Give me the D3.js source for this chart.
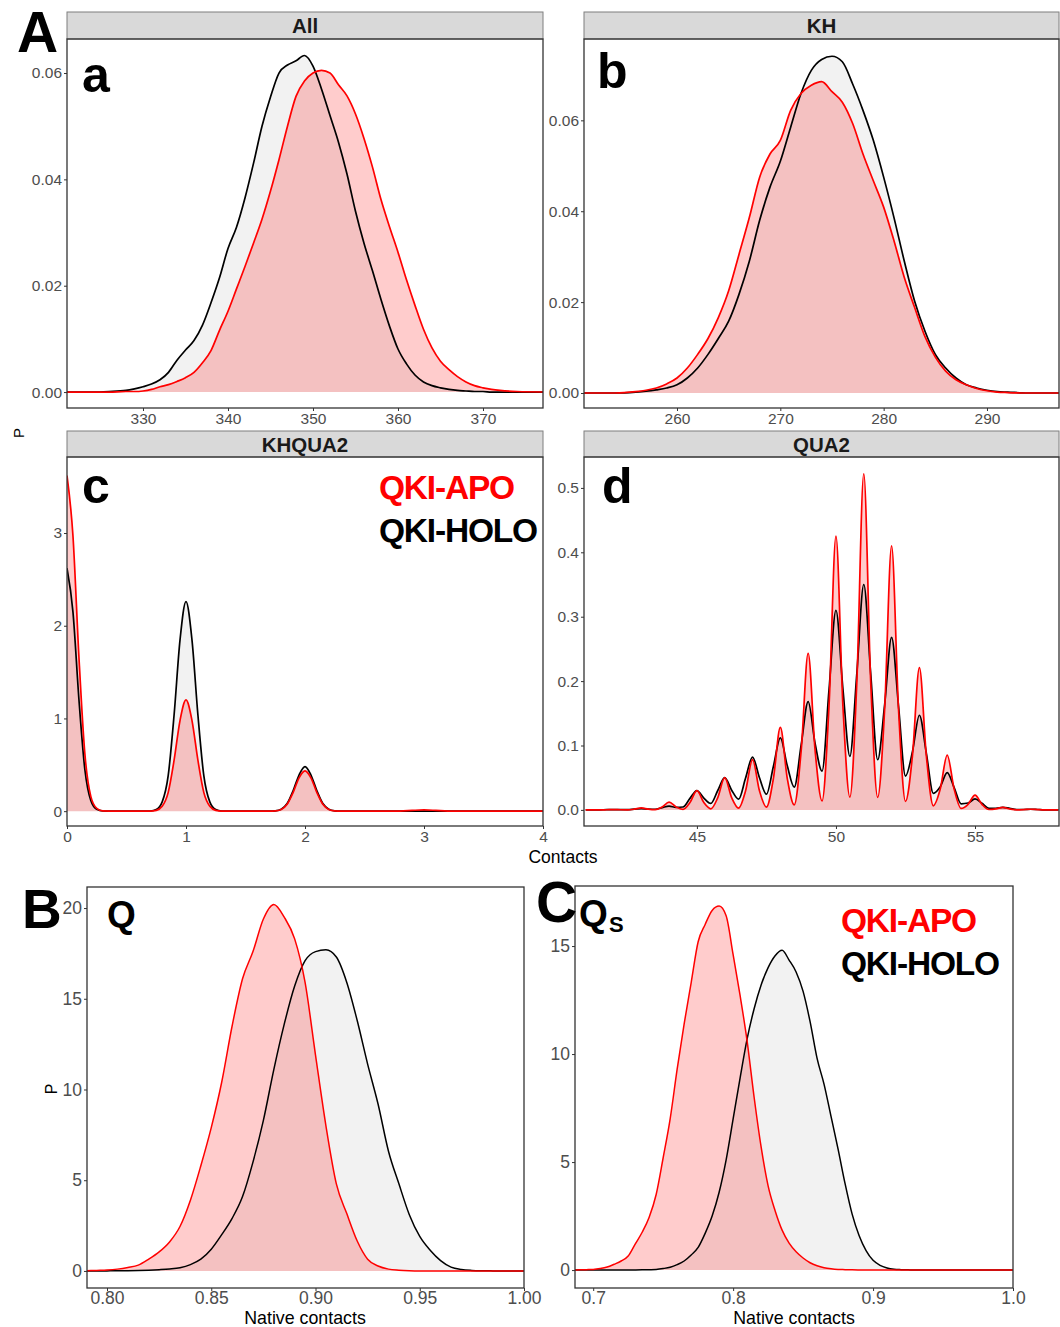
<!DOCTYPE html>
<html>
<head>
<meta charset="utf-8">
<script src="https://cdnjs.cloudflare.com/ajax/libs/d3/7.8.5/d3.min.js"></script>
<style>
  body { margin: 0; background: #fff; }
  svg text { font-family: "Liberation Sans", Arial, Helvetica, sans-serif; }
</style>
</head>
<body>
<svg id="fig" width="1060" height="1327"></svg>
<script>
// ---- panel a : All contacts ----
let allX = [321, 324, 326, 328, 329, 330, 331, 332, 333, 334, 335, 336, 337, 338, 339, 340, 341, 342, 343, 344,
  345, 346, 347, 348, 349, 350, 351, 352, 353, 354, 355, 356, 357, 358, 359, 360, 361, 362, 363, 364,
  365, 366, 367, 368, 369, 370, 371, 372, 374, 378];
let allHolo = [0, 0, 0.0001, 0.0003, 0.0006, 0.001, 0.0015, 0.0023, 0.0037, 0.006, 0.0079, 0.0097, 0.0126, 0.0168, 0.0215, 0.027, 0.031, 0.0365, 0.043, 0.050,
  0.0555, 0.060, 0.0615, 0.0623, 0.0633, 0.0613, 0.057, 0.052, 0.047, 0.041, 0.034, 0.028, 0.0228, 0.0174, 0.0124, 0.0081, 0.0053, 0.0032, 0.0019, 0.0012,
  0.0008, 0.0005, 0.0003, 0.0002, 0.0001, 0.0001, 0, 0, 0, 0];
let allApo = [0, 0, 0, 0.0001, 0.0001, 0.0002, 0.0005, 0.001, 0.0014, 0.002, 0.0027, 0.0037, 0.0055, 0.0078, 0.0116, 0.0152, 0.0194, 0.0236, 0.028, 0.0325,
  0.0378, 0.0437, 0.050, 0.0556, 0.0585, 0.060, 0.0605, 0.060, 0.0578, 0.0557, 0.0523, 0.0477, 0.0423, 0.0362, 0.0311, 0.0263, 0.0211, 0.0163, 0.0118, 0.0083,
  0.0058, 0.0042, 0.0029, 0.0019, 0.0012, 0.0008, 0.0005, 0.0003, 0.0001, 0];

// ---- panel b : KH ----
let khX = [250, 254, 256, 257, 258, 259, 260, 261, 262, 263, 264, 265, 266, 267, 268, 269, 270, 271, 272, 273,
  274, 275, 276, 277, 278, 279, 280, 281, 282, 283, 284, 285, 286, 287, 288, 289, 290, 291, 292, 294, 298];
let khHolo = [0, 0, 0.0002, 0.0004, 0.0007, 0.0011, 0.0018, 0.0033, 0.0055, 0.0085, 0.012, 0.0158, 0.0217, 0.029, 0.038, 0.0453, 0.051, 0.0585, 0.0659, 0.071,
  0.0734, 0.0741, 0.0729, 0.068, 0.0622, 0.0556, 0.0475, 0.0386, 0.029, 0.0202, 0.0136, 0.0085, 0.0055, 0.0033, 0.0018, 0.0011, 0.0006, 0.0003, 0.0002, 0, 0];
let khApo = [0, 0, 0.0003, 0.0006, 0.0011, 0.002, 0.0033, 0.0055, 0.0085, 0.012, 0.0166, 0.0225, 0.0305, 0.0386, 0.0475, 0.0526, 0.0556, 0.0622, 0.0659, 0.0677,
  0.0685, 0.0663, 0.064, 0.0593, 0.0526, 0.0467, 0.0409, 0.0335, 0.0254, 0.0188, 0.0124, 0.0079, 0.0048, 0.0029, 0.0018, 0.001, 0.0005, 0.0002, 0.0001, 0, 0];

// ---- panel c : KHQUA2 ----
let khquaX = [0, 0.05, 0.1, 0.15, 0.2, 0.25, 0.3, 0.4, 0.6,
  0.7, 0.75, 0.8, 0.85, 0.9, 0.95, 1, 1.05, 1.1, 1.15, 1.2, 1.25, 1.3, 1.4, 1.6,
  1.7, 1.75, 1.8, 1.85, 1.9, 1.95, 2, 2.05, 2.1, 2.15, 2.2, 2.25, 2.3,
  2.5, 2.8, 2.9, 3, 3.1, 3.2, 3.5, 4];
let khquaApo = [3.62, 2.97, 1.67, 0.62, 0.16, 0.03, 0.003, 0, 0,
  0.001, 0.009, 0.053, 0.20, 0.55, 0.98, 1.20, 0.98, 0.55, 0.20, 0.053, 0.009, 0.001, 0, 0,
  0.0005, 0.003, 0.019, 0.074, 0.20, 0.36, 0.435, 0.36, 0.20, 0.074, 0.019, 0.003, 0.0005,
  0, 0.001, 0.008, 0.013, 0.008, 0.001, 0, 0];
let khquaHolo = [2.62, 2.15, 1.21, 0.45, 0.115, 0.02, 0.002, 0, 0,
  0.002, 0.017, 0.10, 0.38, 1.04, 1.85, 2.26, 1.85, 1.04, 0.38, 0.10, 0.017, 0.002, 0, 0,
  0.0005, 0.004, 0.021, 0.082, 0.22, 0.39, 0.48, 0.39, 0.22, 0.082, 0.021, 0.004, 0.0005,
  0, 0, 0, 0, 0, 0, 0, 0];

// ---- panel d : QUA2 (sampled every 0.25 contact, 41..58) ----
let quaX = d3.range(41, 58.25, 0.25);
let quaApo = [
  0, 0, 0, 0.0002,
  0.0005, 0.0002, 0.0001, 0.0011,
  0.003, 0.0011, 0.0003, 0.0046,
  0.012, 0.0046, 0.0009, 0.0114,
  0.030, 0.0114, 0.0017, 0.019,
  0.050, 0.019, 0.0027, 0.0296,
  0.078, 0.0296, 0.0043, 0.0486,
  0.128, 0.0486, 0.0078, 0.0923,
  0.243, 0.0923, 0.0140, 0.1615,
  0.425, 0.1615, 0.0199, 0.198,
  0.522, 0.198, 0.0196, 0.156,
  0.410, 0.156, 0.0133, 0.084,
  0.221, 0.084, 0.0064, 0.0323,
  0.085, 0.0323, 0.0023, 0.0087,
  0.023, 0.0087, 0.0006, 0.0015,
  0.004, 0.0015, 0.0001, 0.0004,
  0.001, 0.0004, 0, 0,
  0];
let quaHolo = [
  0, 0, 0.0001, 0.0003,
  0.0005, 0.0003, 0.0003, 0.0012,
  0.002, 0.0013, 0.0010, 0.0036,
  0.006, 0.0039, 0.0045, 0.0179,
  0.030, 0.0184, 0.0101, 0.0301,
  0.050, 0.0306, 0.0166, 0.0494,
  0.082, 0.0499, 0.0244, 0.0675,
  0.112, 0.0684, 0.0353, 0.1012,
  0.168, 0.1031, 0.0602, 0.1864,
  0.310, 0.1881, 0.0832, 0.2116,
  0.350, 0.2112, 0.0779, 0.1631,
  0.268, 0.1612, 0.0525, 0.0902,
  0.147, 0.0882, 0.0258, 0.0360,
  0.058, 0.0347, 0.0095, 0.0107,
  0.017, 0.0102, 0.0026, 0.0026,
  0.004, 0.0024, 0.0006, 0.0006,
  0.001, 0.0006, 0.0001, 0.0001,
  0];

// ---- panel B : Q (every 0.005, 0.79..1.00) ----
let qX = d3.range(0.79, 1.0001, 0.005);
let qApo = [0.01, 0.03, 0.05, 0.1, 0.19, 0.32, 0.65, 1.05, 1.6, 2.45, 3.9, 5.8, 7.9, 10.4, 13.5, 16.1, 17.6, 19.4, 20.2, 19.5,
  18.3, 15.9, 11.9, 8.0, 4.8, 3.16, 1.65, 0.65, 0.27, 0.1, 0.04, 0.01, 0,
  0, 0, 0, 0, 0, 0, 0, 0, 0, 0];
let qHolo = [0, 0, 0.003, 0.006, 0.01, 0.02, 0.04, 0.07, 0.11, 0.18, 0.35, 0.65, 1.2, 2.0, 2.9, 4.1, 6.0, 8.3, 11.1, 13.6,
  15.7, 17.1, 17.6, 17.7, 17.3, 15.9, 13.8, 11.4, 9.2, 6.6, 4.8, 3.1, 1.9, 1.14, 0.57, 0.21, 0.08, 0.03, 0.01, 0.003,
  0, 0, 0];

// ---- panel C : Qs (every 0.005, 0.685..1.00) ----
let qsX = d3.range(0.685, 1.0001, 0.005);
let qsApo = [0.005, 0.01, 0.02, 0.03, 0.07, 0.14, 0.27, 0.42, 0.65, 1.2, 1.75, 2.45, 3.5, 5.2, 7.0, 9.3, 11.4, 13.3, 15.2, 16.0,
  16.65, 16.85, 16.4, 14.6, 12.7, 10.6, 8.0, 5.7, 3.9, 2.75, 1.85, 1.25, 0.85, 0.56, 0.34, 0.2, 0.11, 0.06, 0.03, 0.02,
  0.01, 0.005, 0, 0, 0, 0, 0, 0, 0, 0, 0, 0, 0, 0, 0, 0, 0, 0, 0, 0, 0, 0, 0, 0];
let qsHolo = [0, 0, 0, 0, 0, 0, 0, 0, 0.002, 0.005, 0.01, 0.018, 0.03, 0.07, 0.13, 0.25, 0.42, 0.7, 1.05, 1.7,
  2.5, 3.6, 5.1, 7.0, 8.9, 10.7, 12.1, 13.2, 14.0, 14.55, 14.8, 14.35, 13.8, 12.9, 11.5, 9.8, 8.6, 7.1, 5.6, 4.0,
  2.6, 1.6, 0.9, 0.45, 0.22, 0.1, 0.04, 0.02, 0.01, 0.005, 0, 0, 0, 0, 0, 0, 0, 0, 0, 0, 0, 0, 0, 0];

// tick labels
let allTicksX = [330, 340, 350, 360, 370];
let khTicksX = [260, 270, 280, 290];
let smallTicksY = [0, 0.02, 0.04, 0.06];
let khquaTicksX = [0, 1, 2, 3, 4];
let khquaTicksY = [0, 1, 2, 3];
let quaTicksX = [45, 50, 55];
let quaTicksY = [0, 0.1, 0.2, 0.3, 0.4, 0.5];
let qTicksX = [0.80, 0.85, 0.90, 0.95, 1.00];
let qTicksY = [0, 5, 10, 15, 20];
let qsTicksX = [0.7, 0.8, 0.9, 1.0];
let qsTicksY = [0, 5, 10, 15];

let legendNames = ["QKI-APO", "QKI-HOLO"];
let seriesColors = {apo: "#ff0000", holo: "#000000"};

let svg = d3.select("#fig");

function drawPanel(p) {
  let x = d3.scaleLinear().domain(p.xDomain).range([p.left, p.right]);
  let y = d3.scaleLinear().domain(p.yDomain).range([p.bottom, p.top]);
  let g = svg.append("g");
  let clipId = "clip" + p.id;
  svg.append("clipPath").attr("id", clipId).append("rect")
    .attr("x", p.left).attr("y", p.top)
    .attr("width", p.right - p.left).attr("height", p.bottom - p.top);

  if (p.strip) {
    g.append("rect").attr("x", p.left).attr("y", p.stripTop)
      .attr("width", p.right - p.left).attr("height", p.top - p.stripTop)
      .attr("fill", "#d9d9d9").attr("stroke", "#7f7f7f").attr("stroke-width", 1);
    g.append("text").attr("x", (p.left + p.right) / 2).attr("y", (p.top + p.stripTop) / 2 + 7.5)
      .attr("text-anchor", "middle").attr("font-size", 20.5).attr("font-weight", "bold")
      .attr("fill", "#1a1a1a").text(p.strip);
  }

  let plot = g.append("g").attr("clip-path", "url(#" + clipId + ")");
  let holo = p.xs.map((d, i) => [d, p.holo[i]]);
  let apo = p.xs.map((d, i) => [d, p.apo[i]]);
  let area = d3.area().x(d => x(d[0])).y0(y(0)).y1(d => y(d[1])).curve(d3.curveMonotoneX);
  let line = d3.line().x(d => x(d[0])).y(d => y(d[1])).curve(d3.curveMonotoneX);

  plot.append("path").attr("d", area(holo)).attr("fill", "rgba(0,0,0,0.05)");
  plot.append("path").attr("d", area(apo)).attr("fill", "rgba(255,0,0,0.2)");
  plot.append("path").attr("d", line(holo)).attr("fill", "none")
    .attr("stroke", seriesColors.holo).attr("stroke-width", p.lw);
  plot.append("path").attr("d", line(apo)).attr("fill", "none")
    .attr("stroke", seriesColors.apo).attr("stroke-width", p.lw);

  // axes
  let xAxis = d3.axisBottom(x).tickValues(p.xTicks).tickFormat(p.xFormat).tickSize(3).tickPadding(p.pad);
  let yAxis = d3.axisLeft(y).tickValues(p.yTicks).tickFormat(p.yFormat).tickSize(3).tickPadding(2);
  let xg = g.append("g").attr("transform", "translate(0," + p.bottom + ")").call(xAxis);
  let yg = g.append("g").attr("transform", "translate(" + p.left + ",0)").call(yAxis);
  [xg, yg].forEach(a => {
    a.select(".domain").remove();
    a.selectAll(".tick line").attr("stroke", "#333");
    a.selectAll(".tick text").attr("fill", "#4d4d4d")
      .attr("font-size", p.fs).style("font-family", "'Liberation Sans', Arial, sans-serif");
  });

  g.append("rect").attr("x", p.left).attr("y", p.top)
    .attr("width", p.right - p.left).attr("height", p.bottom - p.top)
    .attr("fill", "none").attr("stroke", "#333").attr("stroke-width", 1.3);
}

let fmt2 = d3.format(".2f"), fmt1 = d3.format(".1f"), fmt0 = d3.format("d");

drawPanel({id: "a", strip: "All", stripTop: 12, left: 67, right: 543, top: 39, bottom: 408,
  xDomain: [321.06, 377.06], yDomain: [-0.003, 0.0664], xs: allX, holo: allHolo, apo: allApo,
  xTicks: allTicksX, yTicks: smallTicksY, xFormat: fmt0, yFormat: fmt2, fs: 15.5, lw: 1.7, pad: 2});
drawPanel({id: "b", strip: "KH", stripTop: 12, left: 584, right: 1059, top: 39, bottom: 408,
  xDomain: [251.0, 296.97], yDomain: [-0.0033, 0.0779], xs: khX, holo: khHolo, apo: khApo,
  xTicks: khTicksX, yTicks: smallTicksY, xFormat: fmt0, yFormat: fmt2, fs: 15.5, lw: 1.7, pad: 2});
drawPanel({id: "c", strip: "KHQUA2", stripTop: 431, left: 67, right: 543, top: 457, bottom: 826,
  xDomain: [0, 4], yDomain: [-0.16, 3.82], xs: khquaX, holo: khquaHolo, apo: khquaApo,
  xTicks: khquaTicksX, yTicks: khquaTicksY, xFormat: fmt0, yFormat: fmt0, fs: 15.5, lw: 1.7, pad: 2});
drawPanel({id: "d", strip: "QUA2", stripTop: 431, left: 584, right: 1059, top: 457, bottom: 826,
  xDomain: [40.94, 58.02], yDomain: [-0.025, 0.548], xs: quaX, holo: quaHolo, apo: quaApo,
  xTicks: quaTicksX, yTicks: quaTicksY, xFormat: fmt0, yFormat: fmt1, fs: 15.5, lw: 1.7, pad: 2});
drawPanel({id: "B", strip: null, left: 87, right: 524, top: 887, bottom: 1288,
  xDomain: [0.7904, 1.0], yDomain: [-0.94, 21.16], xs: qX, holo: qHolo, apo: qApo,
  xTicks: qTicksX, yTicks: qTicksY, xFormat: fmt2, yFormat: fmt0, fs: 17.5, lw: 1.5, pad: 1});
drawPanel({id: "C", strip: null, left: 575, right: 1013, top: 886, bottom: 1288,
  xDomain: [0.687, 1.0], yDomain: [-0.83, 17.78], xs: qsX, holo: qsHolo, apo: qsApo,
  xTicks: qsTicksX, yTicks: qsTicksY, xFormat: fmt1, yFormat: fmt0, fs: 17.5, lw: 1.5, pad: 1});

// axis titles
svg.append("text").attr("x", 563).attr("y", 863).attr("text-anchor", "middle")
  .attr("font-size", 17.5).text("Contacts");
svg.append("text").attr("transform", "translate(24,433) rotate(-90)").attr("text-anchor", "middle")
  .attr("font-size", 15).text("P");
svg.append("text").attr("x", 305).attr("y", 1324).attr("text-anchor", "middle")
  .attr("font-size", 17.8).text("Native contacts");
svg.append("text").attr("x", 794).attr("y", 1324).attr("text-anchor", "middle")
  .attr("font-size", 17.8).text("Native contacts");
svg.append("text").attr("transform", "translate(57,1089) rotate(-90)").attr("text-anchor", "middle")
  .attr("font-size", 16).text("P");

// panel letters
let bold = (t, xx, yy, size, color) => svg.append("text").attr("x", xx).attr("y", yy)
  .attr("font-size", size).attr("font-weight", "bold").attr("fill", color || "#000").text(t);
bold("A", 17, 52, 57);
bold("B", 22, 928, 55);
bold("C", 536, 922, 57);
bold("a", 82, 92, 50);
bold("b", 597, 88, 50);
bold("c", 82, 503, 50);
bold("d", 602, 503, 50);
bold("Q", 107, 927, 37);
bold("Q", 579, 926, 37);
bold("S", 609, 932, 22);

// legends
[[379, 499, 542], [841, 932, 975]].forEach(([lx, y1, y2]) => {
  bold(legendNames[0], lx, y1, 33.5, seriesColors.apo).attr("letter-spacing", "-1.2px");
  bold(legendNames[1], lx, y2, 33.5, seriesColors.holo).attr("letter-spacing", "-1.2px");
});
</script>
</body>
</html>
